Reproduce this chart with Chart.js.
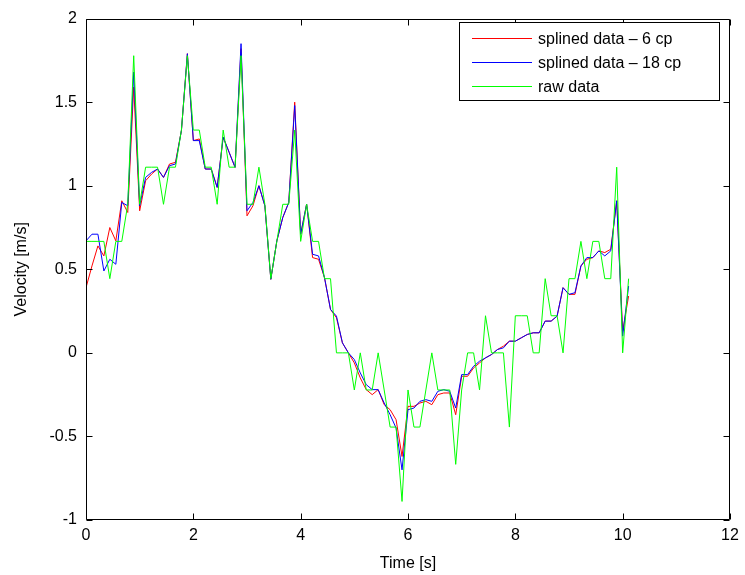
<!DOCTYPE html>
<html><head><meta charset="utf-8">
<script src="https://cdn.jsdelivr.net/npm/chart.js@4.4.1/dist/chart.umd.min.js"></script>
<style>html,body{margin:0;padding:0;background:#fff}#wrap{width:745px;height:575px}</style>
</head><body><div id="wrap"><canvas id="c" width="745" height="575"></canvas></div>
<script>
const time = [0,0.111,0.222,0.333,0.444,0.556,0.667,0.778,0.889,1.000,
1.111,1.222,1.333,1.444,1.556,1.667,1.778,1.889,2.000,2.111,
2.222,2.333,2.444,2.556,2.667,2.778,2.889,3.000,3.111,3.222,
3.333,3.444,3.556,3.667,3.778,3.889,4.000,4.111,4.222,4.333,
4.444,4.556,4.667,4.778,4.889,5.000,5.111,5.222,5.333,5.444,
5.556,5.667,5.778,5.889,6.000,6.111,6.222,6.333,6.444,6.556,
6.667,6.778,6.889,7.000,7.111,7.222,7.333,7.444,7.556,7.667,
7.778,7.889,8.000,8.111,8.222,8.333,8.444,8.556,8.667,8.778,
8.889,9.000,9.111,9.222,9.333,9.444,9.556,9.667,9.778,9.889,
10.000,10.111];

const rawData = [0.667,0.667,0.667,0.667,0.444,0.667,0.667,0.889,1.778,0.889,
1.111,1.111,1.111,0.889,1.111,1.111,1.333,1.778,1.333,1.333,
1.111,1.111,0.889,1.333,1.111,1.111,1.778,0.889,0.889,1.111,
0.889,0.444,0.667,0.889,0.889,1.333,0.667,0.889,0.667,0.667,
0.444,0.444,0,0,0,-0.222,0,-0.222,-0.222,0,
-0.222,-0.444,-0.444,-0.889,-0.222,-0.444,-0.444,-0.222,0,-0.222,
-0.222,-0.222,-0.667,-0.222,0,0,-0.222,0.222,0,0,
0,-0.444,0.222,0.222,0.222,0,0,0.444,0.222,0.222,
0,0.444,0.444,0.667,0.444,0.667,0.667,0.444,0.444,1.111,
0,0.444];

const spline6 = [0.39,0.52,0.64,0.58,0.75,0.67,0.91,0.84,1.59,0.85,
1.03,1.07,1.10,1.05,1.13,1.14,1.33,1.79,1.27,1.28,
1.10,1.10,0.99,1.29,1.20,1.11,1.82,0.82,0.88,1.00,
0.88,0.44,0.67,0.81,0.90,1.50,0.71,0.89,0.57,0.56,
0.45,0.26,0.21,0.06,0.00,-0.06,-0.15,-0.22,-0.25,-0.22,
-0.31,-0.34,-0.40,-0.62,-0.32,-0.32,-0.30,-0.29,-0.31,-0.25,
-0.24,-0.24,-0.37,-0.14,-0.14,-0.09,-0.06,-0.03,-0.01,0.02,
0.04,0.07,0.07,0.09,0.11,0.12,0.12,0.19,0.19,0.22,
0.39,0.35,0.35,0.52,0.56,0.57,0.61,0.60,0.62,0.91,
0.13,0.34];

const spline18 = [0.67,0.71,0.71,0.49,0.56,0.53,0.90,0.88,1.68,0.88,
1.05,1.08,1.10,1.05,1.12,1.13,1.33,1.79,1.27,1.27,
1.10,1.10,0.99,1.29,1.20,1.11,1.85,0.85,0.90,1.00,
0.88,0.44,0.67,0.81,0.90,1.48,0.71,0.89,0.59,0.58,
0.45,0.26,0.22,0.06,0.00,-0.04,-0.12,-0.19,-0.22,-0.22,
-0.30,-0.37,-0.45,-0.70,-0.34,-0.33,-0.29,-0.28,-0.29,-0.23,
-0.22,-0.23,-0.33,-0.13,-0.13,-0.08,-0.05,-0.03,-0.01,0.02,
0.03,0.07,0.07,0.09,0.11,0.12,0.12,0.19,0.19,0.22,
0.39,0.35,0.36,0.52,0.57,0.57,0.61,0.58,0.61,0.91,
0.10,0.40];

const seriesNames = ['splined data \u2013 6 cp', 'splined data \u2013 18 cp', 'raw data'];
const xTicks = [0,2,4,6,8,10,12];
const yTicks = [-1,-0.5,0,0.5,1,1.5,2];

const FONT = "'Liberation Sans', Arial, Helvetica, sans-serif";
const pts = arr => time.map((t,i)=>({x:t,y:arr[i]}));

const frame = {
  id:'frame',
  afterDatasetsDraw(chart){
    const {ctx, chartArea:a, scales:{x,y}} = chart;
    ctx.save();
    ctx.strokeStyle = '#000'; ctx.lineWidth = 1;
    const L = Math.round(a.left)+0.5, R = Math.round(a.right)-0.5, T = Math.round(a.top)+0.5, B = Math.round(a.bottom)-0.5;
    ctx.beginPath(); ctx.rect(L, T, R-L, B-T); ctx.stroke();
    const tl = 6;
    ctx.beginPath();
    x.ticks.forEach(t=>{ const px = Math.round(x.getPixelForValue(t.value))+0.5;
      ctx.moveTo(px,B); ctx.lineTo(px,B-tl); ctx.moveTo(px,T); ctx.lineTo(px,T+tl); });
    y.ticks.forEach(t=>{ const py = Math.round(y.getPixelForValue(t.value))+0.5;
      ctx.moveTo(L,py); ctx.lineTo(L+tl,py); ctx.moveTo(R,py); ctx.lineTo(R-tl,py); });
    ctx.stroke();
    // legend
    const bx = 459.5, by = 22.5, bw = 260, bh = 78;
    ctx.fillStyle = '#fff'; ctx.fillRect(bx,by,bw,bh);
    ctx.strokeRect(bx,by,bw,bh);
    ctx.font = '16px ' + FONT; ctx.textBaseline = 'middle'; ctx.textAlign = 'left';
    chart.data.datasets.forEach((ds,i)=>{
      const ry = 38.5 + i*24;
      ctx.strokeStyle = ds.borderColor; ctx.lineWidth = 1;
      ctx.beginPath(); ctx.moveTo(472, ry); ctx.lineTo(532, ry); ctx.stroke();
      ctx.fillStyle = '#000'; ctx.fillText(ds.label, 538, ry+1);
    });
    ctx.restore();
  }
};

new Chart(document.getElementById('c'), {
  type:'line',
  data:{ datasets:[
    {label:seriesNames[0], data:pts(spline6), borderColor:'#ff0000', borderWidth:1, pointRadius:0, tension:0, order:2},
    {label:seriesNames[1], data:pts(spline18), borderColor:'#0000ff', borderWidth:1, pointRadius:0, tension:0, order:1},
    {label:seriesNames[2], data:pts(rawData), borderColor:'#00ff00', borderWidth:1, pointRadius:0, tension:0, order:0}
  ]},
  options:{
    responsive:false, animation:false, devicePixelRatio:1,
    layout:{padding:{top:13, right:15, left:0, bottom:0}},
    plugins:{legend:{display:false}, tooltip:{enabled:false}},
    scales:{
      x:{type:'linear', min:0, max:12,
        afterBuildTicks: s => { s.ticks = xTicks.map(v=>({value:v})); },
        afterFit: s => { s.height = 55; },
        grid:{display:false, drawTicks:false}, border:{display:false},
        ticks:{color:'#000', padding:6, font:{family:FONT, size:16}, maxRotation:0, callback:v=>String(v)},
        title:{display:true, text:'Time [s]', color:'#000', font:{family:FONT, size:16}, padding:{top:0,bottom:2}}
      },
      y:{type:'linear', min:-1, max:2,
        afterBuildTicks: s => { s.ticks = yTicks.map(v=>({value:v})); },
        afterFit: s => { s.width = 86; },
        grid:{display:false, drawTicks:false}, border:{display:false},
        ticks:{color:'#000', padding:9, font:{family:FONT, size:16}, callback:v=>String(v)},
        title:{display:true, text:'Velocity [m/s]', color:'#000', font:{family:FONT, size:16}, padding:{top:12,bottom:0}}
      }
    }
  },
  plugins:[frame]
});
</script></body></html>
